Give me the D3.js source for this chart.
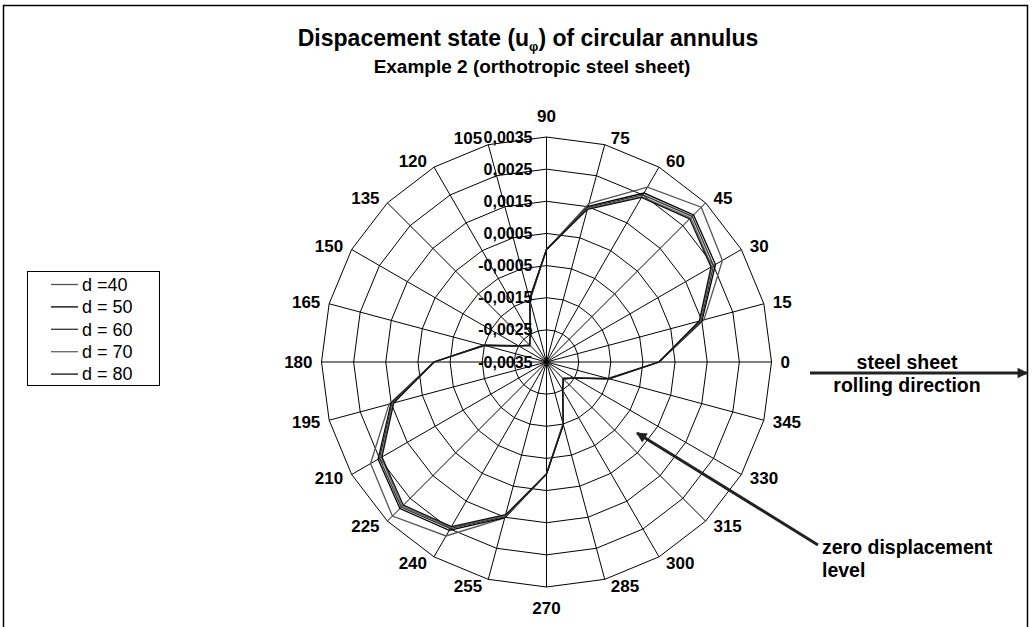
<!DOCTYPE html>
<html>
<head>
<meta charset="utf-8">
<script src="https://cdn.jsdelivr.net/npm/d3@7"></script>
<style>
body { margin: 0; background: #fff; }
text { font-family: "Liberation Sans", Arial, sans-serif; }
</style>
</head>
<body>
<div id="chart"></div>
<script>
// angle categories (degrees)
var angles = [0, 15, 30, 45, 60, 75, 90, 105, 120, 135, 150, 165,
              180, 195, 210, 225, 240, 255, 270, 285, 300, 315, 330, 345];

var seriesNames = ["d =40", "d = 50", "d = 60", "d = 70", "d = 80"];

var d40 = [0.0000, 0.00157, 0.00282, 0.00331, 0.00278, 0.00160, 0.0000, -0.00150, -0.00250, -0.00278, -0.00248, -0.00148,
           0.0000, 0.00157, 0.00282, 0.00328, 0.00275, 0.00152, -0.00002, -0.00150, -0.00248, -0.00278, -0.00250, -0.00148];
var d50 = [0.0000, 0.00151, 0.00257, 0.00297, 0.00257, 0.00151, 0.0000, -0.00146, -0.00252, -0.00276, -0.00250, -0.00150,
           0.0000, 0.00151, 0.00255, 0.00295, 0.00255, 0.00151, -0.00002, -0.00148, -0.00250, -0.00276, -0.00250, -0.00150];
var d60 = [0.0000, 0.00148, 0.00250, 0.00291, 0.00250, 0.00148, 0.0000, -0.00150, -0.00250, -0.00278, -0.00250, -0.00148,
           0.0000, 0.00148, 0.00250, 0.00289, 0.00248, 0.00148, -0.00002, -0.00150, -0.00250, -0.00278, -0.00250, -0.00148];
var d70 = [0.0000, 0.00145, 0.00244, 0.00285, 0.00244, 0.00145, 0.0000, -0.00152, -0.00248, -0.00280, -0.00248, -0.00152,
           0.0000, 0.00145, 0.00244, 0.00285, 0.00244, 0.00145, -0.00002, -0.00152, -0.00248, -0.00280, -0.00248, -0.00152];
var d80 = [0.0000, 0.00142, 0.00241, 0.00280, 0.00241, 0.00142, 0.0000, -0.00148, -0.00250, -0.00276, -0.00250, -0.00150,
           0.0000, 0.00142, 0.00241, 0.00280, 0.00241, 0.00142, -0.00002, -0.00148, -0.00250, -0.00276, -0.00250, -0.00150];

var seriesColors = ["#555", "#000", "#333", "#666", "#111"];

var radialTicks = [-0.0035, -0.0025, -0.0015, -0.0005, 0.0005, 0.0015, 0.0025, 0.0035];

var width = 1034, height = 627;
var cx = 546.5, cy = 362, R = 225;

var svg = d3.select("#chart")
  .append("svg")
  .attr("width", width)
  .attr("height", height);

// chart border
svg.append("rect")
  .attr("x", 3.5).attr("y", 5.5)
  .attr("width", 1024).attr("height", 660)
  .attr("fill", "none")
  .attr("stroke", "#000")
  .attr("stroke-width", 1.5);

// titles
var title = svg.append("text")
  .attr("x", 528).attr("y", 46)
  .attr("text-anchor", "middle")
  .style("font-size", "23px")
  .style("font-weight", "bold");
title.append("tspan").text("Dispacement state (u");
title.append("tspan").text("φ").style("font-size", "13px").attr("dy", 5);
title.append("tspan").text(") of circular annulus").attr("dy", -5);

svg.append("text")
  .attr("x", 532).attr("y", 73)
  .attr("text-anchor", "middle")
  .style("font-size", "19px")
  .style("font-weight", "bold")
  .text("Example 2 (orthotropic steel sheet)");

var rScale = d3.scaleLinear().domain([-0.0035, 0.0035]).range([0, R]);
// lineRadial measures clockwise from 12 o'clock, chart angles go counterclockwise from 3 o'clock
var aScale = d3.scaleLinear().domain([0, 360]).range([Math.PI / 2, Math.PI / 2 - 2 * Math.PI]);

var g = svg.append("g").attr("transform", "translate(" + cx + "," + cy + ")");

var ringLine = d3.lineRadial()
  .angle(function(d) { return aScale(d.a); })
  .radius(function(d) { return rScale(d.v); })
  .curve(d3.curveLinearClosed);

// web rings
g.selectAll(".ring")
  .data(radialTicks)
  .enter()
  .append("path")
  .attr("d", function(t) {
    return ringLine(angles.map(function(a) { return {a: a, v: t}; }));
  })
  .attr("fill", "none")
  .attr("stroke", "#000")
  .attr("stroke-width", 1);

// spokes
g.selectAll(".spoke")
  .data(angles)
  .enter()
  .append("line")
  .attr("x1", 0).attr("y1", 0)
  .attr("x2", function(a) { return R * Math.cos(a * Math.PI / 180); })
  .attr("y2", function(a) { return -R * Math.sin(a * Math.PI / 180); })
  .attr("stroke", "#000")
  .attr("stroke-width", 1);

// series
var allSeries = [d40, d50, d60, d70, d80];
g.selectAll(".series")
  .data(allSeries)
  .enter()
  .append("path")
  .attr("d", function(s) {
    return ringLine(s.map(function(v, i) { return {a: angles[i], v: v}; }));
  })
  .attr("fill", "none")
  .attr("stroke", function(d, i) { return seriesColors[i]; })
  .attr("stroke-width", 1.3);

// radial value labels
var loc = d3.formatLocale({decimal: ",", thousands: ".", grouping: [3], currency: ["", ""], minus: "-"});
var fmt = loc.format(".4f");
g.selectAll(".rlabel")
  .data(radialTicks)
  .enter()
  .append("text")
  .attr("x", -14)
  .attr("y", function(t) { return -rScale(t); })
  .attr("dy", "0.35em")
  .attr("text-anchor", "end")
  .style("font-size", "16px")
  .style("font-weight", "bold")
  .text(function(t) { return fmt(t); });

// angle labels
function rad(a) { return a * Math.PI / 180; }
g.selectAll(".alabel")
  .data(angles)
  .enter()
  .append("text")
  .attr("x", function(a) {
    var c = Math.cos(rad(a));
    if (Math.abs(c) < 0.2) return R * c;
    return R * c + (c > 0 ? 1 : -1) * (5 + 4 * Math.abs(c));
  })
  .attr("y", function(a) {
    var c = Math.cos(rad(a)), s = Math.sin(rad(a));
    if (Math.abs(c) < 0.2) return -R * s - (s > 0 ? 21 : -21);
    return -R * s - 7 * s;
  })
  .attr("dy", "0.35em")
  .attr("text-anchor", function(a) {
    var c = Math.cos(rad(a));
    return c > 0.2 ? "start" : (c < -0.2 ? "end" : "middle");
  })
  .style("font-size", "17px")
  .style("font-weight", "bold")
  .text(function(a) { return a; });

// legend
var legend = svg.append("g");
legend.append("rect")
  .attr("x", 27.5).attr("y", 271.5)
  .attr("width", 132).attr("height", 114)
  .attr("fill", "#fff")
  .attr("stroke", "#000")
  .attr("stroke-width", 1);
seriesNames.forEach(function(name, i) {
  var y = 284.5 + i * 22.4;
  legend.append("line")
    .attr("x1", 51).attr("x2", 78)
    .attr("y1", y).attr("y2", y)
    .attr("stroke", seriesColors[i])
    .attr("stroke-width", 1.3);
  legend.append("text")
    .attr("x", 82).attr("y", y)
    .attr("dy", "0.35em")
    .style("font-size", "18px")
    .text(name);
});

// annotations
svg.append("defs").append("marker")
  .attr("id", "arrow")
  .attr("viewBox", "0 0 10 10")
  .attr("refX", 9).attr("refY", 5)
  .attr("markerWidth", 4).attr("markerHeight", 3.5)
  .attr("orient", "auto")
  .append("path")
  .attr("d", "M0,0 L10,5 L0,10 Z")
  .attr("fill", "#222");

svg.append("line")
  .attr("x1", 810).attr("y1", 373)
  .attr("x2", 1027).attr("y2", 373)
  .attr("stroke", "#222")
  .attr("stroke-width", 3)
  .attr("marker-end", "url(#arrow)");

svg.append("text")
  .attr("x", 907).attr("y", 368.5)
  .attr("text-anchor", "middle")
  .style("font-size", "19.5px")
  .style("font-weight", "bold")
  .text("steel sheet");
svg.append("text")
  .attr("x", 907).attr("y", 392)
  .attr("text-anchor", "middle")
  .style("font-size", "19.5px")
  .style("font-weight", "bold")
  .text("rolling direction");

svg.append("line")
  .attr("x1", 818).attr("y1", 545)
  .attr("x2", 637).attr("y2", 433)
  .attr("stroke", "#222")
  .attr("stroke-width", 3)
  .attr("marker-end", "url(#arrow)");

svg.append("text")
  .attr("x", 822).attr("y", 553.5)
  .style("font-size", "19.5px")
  .style("font-weight", "bold")
  .text("zero displacement");
svg.append("text")
  .attr("x", 822).attr("y", 577)
  .style("font-size", "19.5px")
  .style("font-weight", "bold")
  .text("level");
</script>
</body>
</html>
